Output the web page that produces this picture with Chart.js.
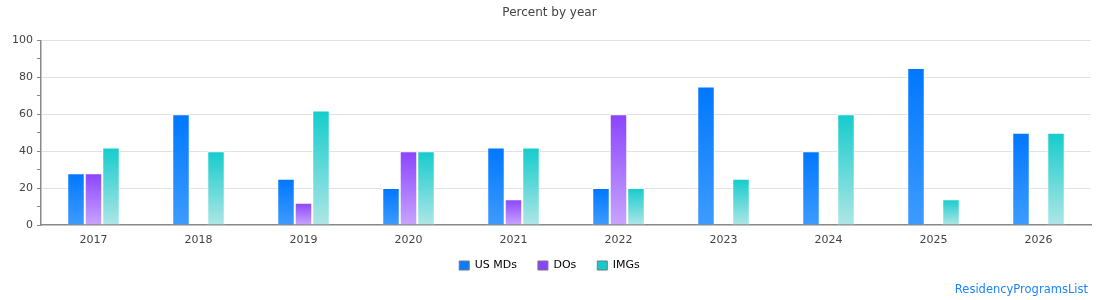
<!DOCTYPE html>
<html>
<head>
<meta charset="utf-8">
<script src="https://cdn.jsdelivr.net/npm/chart.js@4"></script>
<style>
  html, body { margin: 0; padding: 0; background: #fff; }
  #wrap { position: relative; width: 1110px; height: 300px; }
  #credit { position: absolute; right: 22px; top: 282px; font: 11.5px "DejaVu Sans", sans-serif; color: #1a85ff; }
</style>
</head>
<body>
<div id="wrap">
  <canvas id="chart" width="1110" height="300"></canvas>
  <div id="credit">ResidencyProgramsList</div>
</div>
<script>
const years = ['2017', '2018', '2019', '2020', '2021', '2022', '2023', '2024', '2025', '2026'];
const usMDs = [28, 60, 25, 20, 42, 20, 75, 40, 85, 50];
const dos = [28, 0, 12, 40, 14, 60, 0, 0, 0, 0];
const imgs = [42, 40, 62, 40, 42, 20, 25, 60, 14, 50];

// gradient from the top of each bar down to its base
function barGradient(top, bottom) {
    return function(context) {
        const chart = context.chart;
        const y = chart.scales.y;
        if (!y || context.type !== 'data') return top;
        const v = context.raw || 0;
        const y0 = y.getPixelForValue(v);
        const y1 = y.getPixelForValue(0);
        if (y1 - y0 < 1) return top;
        const g = chart.ctx.createLinearGradient(0, y0, 0, y1);
        g.addColorStop(0, top);
        g.addColorStop(1, bottom);
        return g;
    };
}

Chart.defaults.font.family = '"DejaVu Sans", sans-serif';
Chart.defaults.font.size = 11;
Chart.defaults.color = '#444';

const ctx = document.getElementById('chart').getContext('2d');
const chart = new Chart(ctx, {
    type: 'bar',
    data: {
        labels: years,
        datasets: [{
            label: 'US MDs',
            data: usMDs,
            backgroundColor: barGradient('#0077ff', '#3d9bff'),
            borderColor: '#ffffff',
            borderWidth: 1,
            legendColor: '#0a7cff'
        }, {
            label: 'DOs',
            data: dos,
            backgroundColor: barGradient('#8a44ff', '#c8a4ff'),
            borderColor: '#ffffff',
            borderWidth: 1,
            legendColor: '#8a44ff'
        }, {
            label: 'IMGs',
            data: imgs,
            backgroundColor: barGradient('#14cccc', '#aee6e6'),
            borderColor: '#ffffff',
            borderWidth: 1,
            legendColor: '#14cccc'
        }]
    },
    options: {
        responsive: false,
        animation: false,
        layout: { padding: { left: 8, right: 19, top: 0, bottom: 19 } },
        datasets: {
            bar: { categoryPercentage: 0.5, barPercentage: 1.0 }
        },
        scales: {
            x: {
                grid: { display: false, drawTicks: false },
                border: { color: '#888', width: 1.5 },
                ticks: { color: '#444', padding: 9 },
                afterFit: (scale) => {
                    // tight axis box so the legend sits close; let labels draw past it
                    scale.height = 14;
                    scale._computeLabelArea = () => undefined;
                }
            },
            y: {
                min: 0,
                max: 100,
                ticks: {
                    stepSize: 10,
                    color: '#444',
                    padding: 4,
                    callback: (v) => v % 20 === 0 ? v : ''
                },
                grid: {
                    color: (c) => (c.tick && c.tick.value % 20 === 0 && c.tick.value !== 0) ? '#e2e2e2' : 'rgba(0,0,0,0)',
                    tickColor: '#888',
                    tickLength: 4
                },
                border: { color: '#888', width: 1.5 }
            }
        },
        plugins: {
            title: {
                display: true,
                text: 'Percent by year',
                color: '#444',
                font: { size: 12, weight: 'normal' },
                padding: { top: 6, bottom: 20 }
            },
            legend: {
                position: 'bottom',
                labels: {
                    boxWidth: 10,
                    boxHeight: 9,
                    padding: 21,
                    color: '#333',
                    generateLabels: (ch) => ch.data.datasets.map((ds, i) => ({
                        text: ds.label,
                        fillStyle: ds.legendColor,
                        strokeStyle: '#777',
                        lineWidth: 1,
                        datasetIndex: i,
                        hidden: !ch.isDatasetVisible(i)
                    }))
                }
            },
            tooltip: { enabled: false }
        }
    }
});
</script>
</body>
</html>
